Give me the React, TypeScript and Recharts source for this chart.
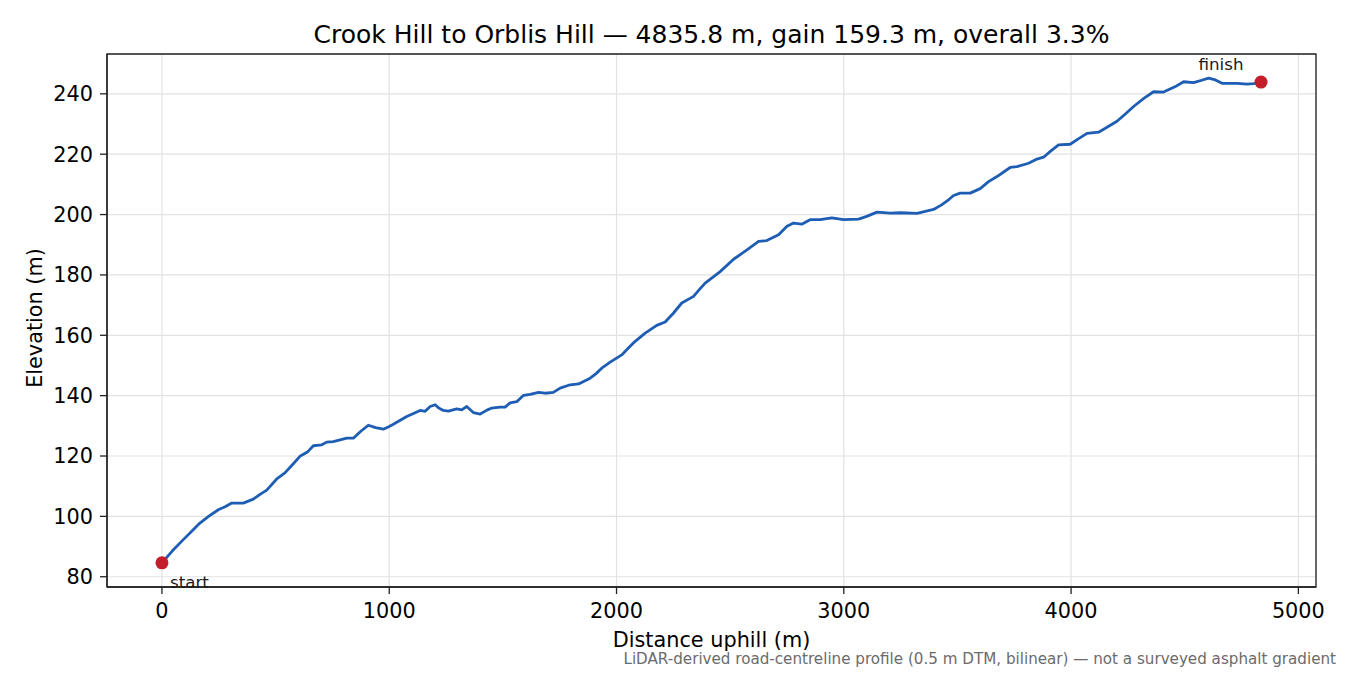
import React from 'react';
import {
  ComposedChart,
  Line,
  XAxis,
  YAxis,
  CartesianGrid,
  ReferenceArea,
  ReferenceDot,
} from 'recharts';

const distances = [
  0, 45, 94, 130, 167, 205, 248, 280, 307, 358, 402, 430, 461, 505, 541, 575, 607, 640, 666, 703,
  725, 754, 813, 842, 875, 908, 940, 974, 1000, 1018, 1077, 1136, 1158, 1180, 1202, 1220, 1238,
  1260, 1297, 1319, 1341, 1370, 1400, 1430, 1451, 1488, 1510, 1532, 1561, 1591, 1620, 1657, 1686,
  1722, 1752, 1796, 1833, 1884, 1910, 1935, 1972, 2023, 2050, 2082, 2126, 2177, 2214, 2250, 2287,
  2339, 2365, 2390, 2456, 2515, 2574, 2625, 2661, 2713, 2750, 2779, 2815, 2837, 2852, 2896, 2947,
  2999, 3065, 3101, 3146, 3204, 3250, 3322, 3395, 3430, 3461, 3483, 3512, 3556, 3600, 3637, 3674,
  3732, 3762, 3813, 3850, 3879, 3910, 3945, 3996, 4030, 4070, 4121, 4160, 4202, 4240, 4275, 4320,
  4363, 4407, 4459, 4495, 4539, 4575, 4605, 4635, 4664, 4730, 4774, 4803, 4835.8,
];

const elevations = [
  84.6, 88.5, 92.3, 95.0, 97.8, 100.0, 102.2, 103.3, 104.4, 104.4, 105.7, 107.2, 108.7, 112.4,
  114.4, 117.2, 119.9, 121.3, 123.4, 123.7, 124.6, 124.8, 125.9, 125.9, 128.2, 130.2, 129.4, 128.9,
  129.8, 130.5, 133.1, 135.1, 134.8, 136.4, 137.0, 135.8, 135.1, 134.9, 135.6, 135.3, 136.4, 134.4,
  133.9, 135.2, 135.9, 136.2, 136.2, 137.6, 138.0, 140.1, 140.4, 141.1, 140.8, 141.1, 142.5, 143.6,
  143.9, 145.8, 147.3, 149.1, 151.1, 153.5, 155.6, 158.0, 160.7, 163.3, 164.4, 167.3, 170.7, 172.9,
  175.2, 177.3, 181.1, 185.2, 188.3, 191.1, 191.4, 193.3, 196.1, 197.2, 196.8, 197.7, 198.3, 198.3,
  198.9, 198.3, 198.5, 199.4, 200.8, 200.5, 200.6, 200.4, 201.7, 203.2, 204.9, 206.3, 207.1, 207.1,
  208.6, 210.9, 212.6, 215.6, 215.9, 217.0, 218.4, 219.0, 221.0, 223.1, 223.3, 225.0, 226.9, 227.3,
  229.0, 230.9, 233.4, 235.8, 238.5, 240.7, 240.6, 242.4, 244.0, 243.7, 244.5, 245.2, 244.6, 243.5,
  243.5, 243.2, 243.4, 243.9,
];

const xTicks = [0, 1000, 2000, 3000, 4000, 5000];
const yTicks = [80, 100, 120, 140, 160, 180, 200, 220, 240];
const xDomain: [number, number] = [-241.8, 5077.6];
const yDomain: [number, number] = [76.6, 253.2];

const titleText = 'Crook Hill to Orblis Hill — 4835.8 m, gain 159.3 m, overall 3.3%';
const xLabelText = 'Distance uphill (m)';
const yLabelText = 'Elevation (m)';
const footerText =
  'LiDAR-derived road-centreline profile (0.5 m DTM, bilinear) — not a surveyed asphalt gradient';
const startText = 'start';
const finishText = 'finish';

const profile = distances.map((d, i) => ({ d, e: elevations[i] }));

const FONT = 'DejaVu Sans, Verdana, sans-serif';
const RED = '#c41e2a';
const BLUE = '#1d5db4';

const StartShape = (props: any) => {
  const { cx, cy } = props;
  return (
    <g>
      <circle cx={cx} cy={cy} r={6.5} fill={RED} />
      <text x={cx + 8} y={cy + 25} fontSize={16.7} fontFamily={FONT} fill="#1a1a1a">
        {startText}
      </text>
    </g>
  );
};

const FinishShape = (props: any) => {
  const { cx, cy } = props;
  return (
    <g>
      <circle cx={cx} cy={cy} r={6.5} fill={RED} />
      <text
        x={cx - 40}
        y={cy - 12}
        fontSize={16.7}
        fontFamily={FONT}
        fill="#1a1a1a"
        textAnchor="middle"
      >
        {finishText}
      </text>
    </g>
  );
};

export default function App() {
  const last = distances.length - 1;
  return (
    <div
      style={{
        position: 'absolute',
        left: 0,
        top: 0,
        width: 1350,
        height: 675,
        background: '#fff',
        fontFamily: FONT,
      }}
    >
      <ComposedChart
        width={1350}
        height={675}
        margin={{ top: 54, right: 34, bottom: 58, left: 0 }}
      >
        <CartesianGrid stroke="#e2e2e2" strokeWidth={1.2} />
        <XAxis
          type="number"
          dataKey="d"
          domain={xDomain}
          ticks={xTicks}
          allowDataOverflow
          height={30}
          tickSize={7}
          tickMargin={9}
          axisLine={{ stroke: '#222', strokeWidth: 1.3 }}
          tickLine={{ stroke: '#222', strokeWidth: 1.3 }}
          tick={{ fontSize: 20.8, fontFamily: FONT, fill: '#000' }}
        />
        <YAxis
          type="number"
          dataKey="e"
          domain={yDomain}
          ticks={yTicks}
          allowDataOverflow
          width={107}
          tickSize={7}
          tickMargin={7}
          axisLine={{ stroke: '#222', strokeWidth: 1.3 }}
          tickLine={{ stroke: '#222', strokeWidth: 1.3 }}
          tick={{ fontSize: 20.8, fontFamily: FONT, fill: '#000' }}
        />
        <Line
          data={profile}
          type="linear"
          dataKey="e"
          stroke={BLUE}
          strokeWidth={2.8}
          strokeLinejoin="round"
          dot={false}
          activeDot={false}
          isAnimationActive={false}
        />
        <ReferenceDot
          x={distances[0]}
          y={elevations[0]}
          r={6.5}
          shape={StartShape}
          ifOverflow="visible"
        />
        <ReferenceDot
          x={distances[last]}
          y={elevations[last]}
          r={6.5}
          shape={FinishShape}
          ifOverflow="visible"
        />
        <ReferenceArea
          x1={xDomain[0]}
          x2={xDomain[1]}
          y1={yDomain[0]}
          y2={yDomain[1]}
          fill="none"
          fillOpacity={0}
          stroke="#222"
          strokeWidth={1.3}
          ifOverflow="visible"
        />
      </ComposedChart>
      <svg
        width={1350}
        height={675}
        style={{ position: 'absolute', left: 0, top: 0, pointerEvents: 'none' }}
      >
        <text x={711.5} y={43} textAnchor="middle" fontSize={25} fontFamily={FONT} fill="#000">
          {titleText}
        </text>
        <text x={711.5} y={647} textAnchor="middle" fontSize={20.8} fontFamily={FONT} fill="#000">
          {xLabelText}
        </text>
        <text
          x={41.5}
          y={318}
          textAnchor="middle"
          fontSize={20.8}
          fontFamily={FONT}
          fill="#000"
          transform="rotate(-90 41.5 318)"
        >
          {yLabelText}
        </text>
        <text x={1336} y={664} textAnchor="end" fontSize={15.15} fontFamily={FONT} fill="#6b6b6b">
          {footerText}
        </text>
      </svg>
    </div>
  );
}
